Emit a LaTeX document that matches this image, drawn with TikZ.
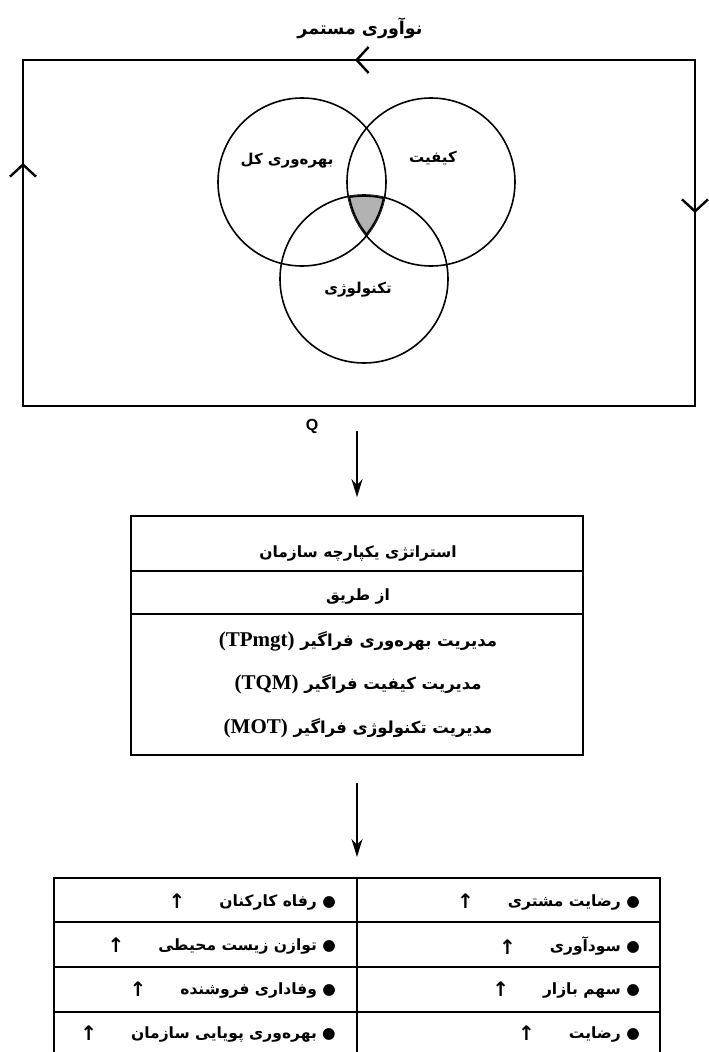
\documentclass[tikz,border=0pt]{standalone}
\usepackage{fontspec}
\usetikzlibrary{arrows.meta,calc}
\TeXXeTstate=1
\newfontfamily\fa[Script=Arabic]{DejaVu Sans}
\newfontfamily\lat{Liberation Serif}
\newfontfamily\qfont{Liberation Sans}
\newcommand\latin[1]{\beginL{\lat\bfseries\fontsize{21}{22}\selectfont #1}\endL}
\newcommand\uparr{\raisebox{-2.5pt}{\fontsize{20}{20}\selectfont ↑}}
\tikzset{
  frameline/.style={line width=1.6pt},
  barb/.style={line width=1.6pt,-{Straight Barb[length=12pt,width=26pt,line width=2.4pt]}},
  arr/.style={line width=1.8pt,-{Stealth[length=18pt,width=11pt]}},
  venn/.style={circle,draw,line width=1.6pt,minimum size=168pt,inner sep=0pt},
  fatitle/.style={font=\fa\bfseries\fontsize{17.5}{19}\selectfont,inner sep=0pt},
  facircle/.style={font=\fa\bfseries\fontsize{15}{17}\selectfont,inner sep=0pt},
  fabox/.style={font=\fa\bfseries\fontsize{15.5}{18}\selectfont,inner sep=0pt},
  faboxb/.style={font=\fa\bfseries\fontsize{16.5}{18}\selectfont,inner sep=0pt},
  facell/.style={font=\fa\bfseries\fontsize{15.5}{18}\selectfont,inner sep=0pt,anchor=east},
  gridline/.style={line width=1.4pt}
}
\begin{document}
\begin{tikzpicture}[x=1pt,y=-1pt]
\useasboundingbox (0,0) rectangle (709,1052);
\fill[white] (0,0) rectangle (709,1052);

% title
\node[fatitle] (title) at (360,28) {\beginR نوآوری مستمر\endR};

% frame with flow arrows
\node[draw,frameline,minimum width=672pt,minimum height=346pt,inner sep=0pt] (frame) at (359,233) {};
\coordinate (topA) at (385,60);  \coordinate (topB) at (355,60);
\coordinate (leftA) at (23,195); \coordinate (leftB) at (23,163);
\coordinate (rightA) at (695,183); \coordinate (rightB) at (695,213);
\draw[barb] (topA) -- (topB);
\draw[barb] (leftA) -- (leftB);
\draw[barb] (rightA) -- (rightB);

% Venn circles
\node[venn] (prod) at (302,182) {};
\node[venn] (qual) at (431,182) {};
\node[venn] (tech) at (364,279) {};
\begin{scope}
  \clip (302,182) circle[radius=84pt];
  \clip (431,182) circle[radius=84pt];
  \clip (364,279) circle[radius=84pt];
  \fill[gray!60] (300,150) rectangle (430,260);
  \draw[line width=3.6pt] (302,182) circle[radius=84pt];
  \draw[line width=3.6pt] (431,182) circle[radius=84pt];
  \draw[line width=3.6pt] (364,279) circle[radius=84pt];
\end{scope}
\node[facircle] (prodt) at (287,161) {\beginR بهره^^^^200cوری کل\endR};
\node[facircle] (qualt) at (433,158) {\beginR کیفیت\endR};
\node[facircle] (techt) at (358,290) {\beginR تکنولوژی\endR};

% Q label
\node[font=\qfont\bfseries\fontsize{16}{18}\selectfont,inner sep=0pt] (q) at (312,426) {Q};

% strategy box
\node[draw,frameline,minimum width=452pt,minimum height=239pt,inner sep=0pt] (strat) at (357,635.5) {};
\draw[gridline] (131,571) -- (583,571);
\draw[gridline] (131,614) -- (583,614);
\node[fabox] (s1) at (358,553) {\beginR استراتژی یکپارچه سازمان\endR};
\node[fabox] (s2) at (358,597) {\beginR از طریق\endR};
\node[faboxb] (s3) at (358,641) {\beginR مدیریت بهره^^^^200cوری فراگیر \latin{(TPmgt)}\endR};
\node[faboxb] (s4) at (358,684) {\beginR مدیریت کیفیت فراگیر \latin{(TQM)}\endR};
\node[faboxb] (s5) at (358,728) {\beginR مدیریت تکنولوژی فراگیر \latin{(MOT)}\endR};

% results table
\coordinate (tbltop) at (357,878);
\draw[gridline] (54,1052) -- (54,878) -- (660,878) -- (660,1052);
\draw[gridline] (tbltop) -- (357,1052);
\draw[gridline] (54,922) -- (660,922);
\draw[gridline] (54,967) -- (660,967);
\draw[gridline] (54,1012) -- (660,1012);

\node[facell] (r1) at (640,902) {\beginR ● رضایت مشتری\hspace{34pt}\uparr\endR};
\node[facell] (r2) at (640,946) {\beginR ● سودآوری\hspace{34pt}\uparr\endR};
\node[facell] (r3) at (640,990) {\beginR ● سهم بازار\hspace{34pt}\uparr\endR};
\node[facell] (r4) at (640,1034) {\beginR ● رضایت\hspace{34pt}\uparr\endR};
\node[facell] (l1) at (336,902) {\beginR ● رفاه کارکنان\hspace{34pt}\uparr\endR};
\node[facell] (l2) at (336,946) {\beginR ● توازن زیست محیطی\hspace{34pt}\uparr\endR};
\node[facell] (l3) at (336,990) {\beginR ● وفاداری فروشنده\hspace{34pt}\uparr\endR};
\node[facell] (l4) at (336,1034) {\beginR ● بهره^^^^200cوری پویایی سازمان\hspace{34pt}\uparr\endR};

% connectors
\draw[arr,shorten <=24pt,shorten >=18pt] (frame.south -| strat.north) -- (strat.north);
\draw[arr,shorten <=27pt,shorten >=21pt] (strat.south) -- (tbltop);
\end{tikzpicture}
\end{document}
